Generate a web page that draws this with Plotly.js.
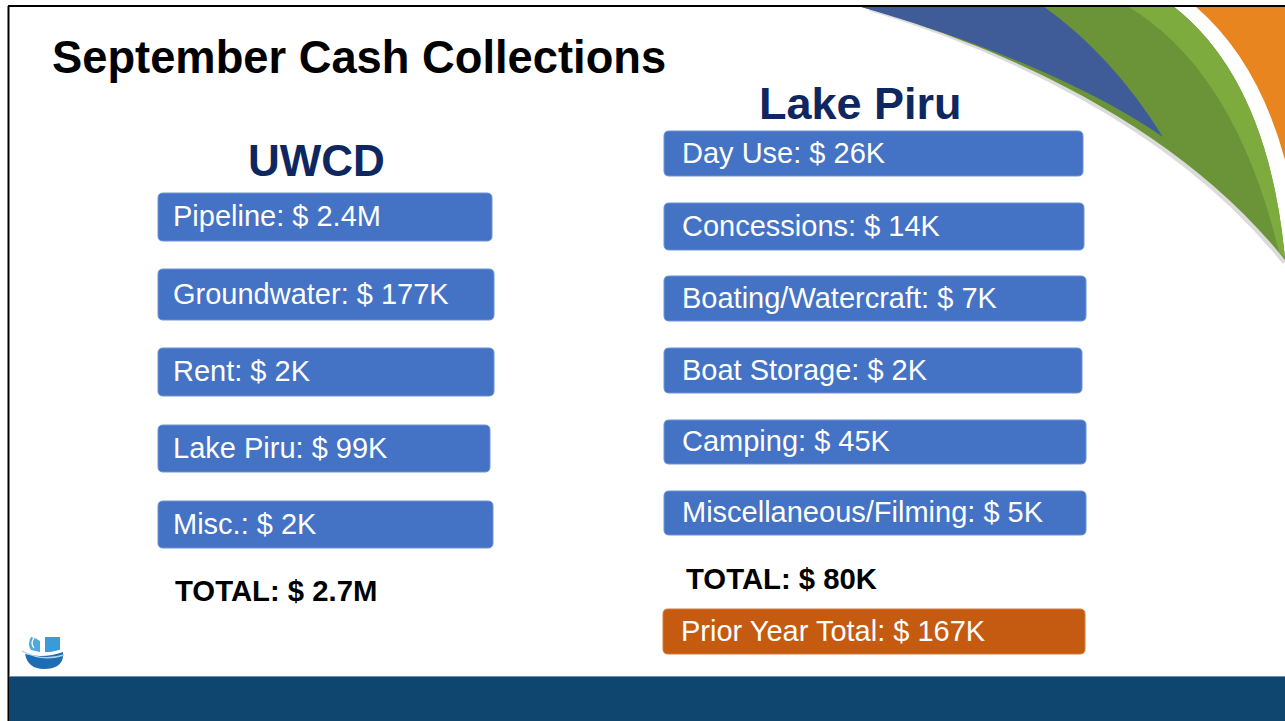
<!DOCTYPE html>
<html>
<head>
<meta charset="utf-8">
<script src="https://cdn.plot.ly/plotly-3.0.1.min.js"></script>
<style>html,body{margin:0;padding:0;background:#fff;}#chart{width:1285px;height:721px;}</style>
</head>
<body>
<div id="chart"></div>
<script>
// ---- data (amounts in thousands of dollars) ----
const slideTitle = 'September Cash Collections';
const uwcdHeading = 'UWCD';
const uwcdCategories = ['Pipeline', 'Groundwater', 'Rent', 'Lake Piru', 'Misc.'];
const uwcdAmounts = [2400, 177, 2, 99, 2];
const uwcdTotal = 2700;
const lakeHeading = 'Lake Piru';
const lakeCategories = ['Day Use', 'Concessions', 'Boating/Watercraft', 'Boat Storage', 'Camping', 'Miscellaneous/Filming'];
const lakeAmounts = [26, 14, 7, 2, 45, 5];
const lakeTotal = 80;
const priorYearLabel = 'Prior Year Total';
const priorYearTotal = 167;

// ---- layout geometry (pixels) ----
const uwcdBoxTop = [193, 269, 348, 425, 501];
const uwcdBoxBottom = [241, 320, 396, 472, 548];
const uwcdBoxRight = [492, 494, 494, 490, 493];
const uwcdBoxLeft = 158;
const lakeBoxTop = [131, 203, 276, 348, 420, 491];
const lakeBoxBottom = [176, 250, 321, 393, 464, 535];
const lakeBoxRight = [1083, 1084, 1086, 1082, 1086, 1086];
const lakeBoxLeft = 664;

function fmt(v) {
  return v >= 1000 ? '$ ' + (v / 1000).toFixed(1) + 'M' : '$ ' + v + 'K';
}
function rr(x0, y0, x1, y1, r) {
  return `M${x0 + r},${y0} L${x1 - r},${y0} Q${x1},${y0} ${x1},${y0 + r} L${x1},${y1 - r} Q${x1},${y1} ${x1 - r},${y1} L${x0 + r},${y1} Q${x0},${y1} ${x0},${y1 - r} L${x0},${y0 + r} Q${x0},${y0} ${x0 + r},${y0} Z`;
}

const FONT = 'Liberation Sans, Arial, sans-serif';
const shapes = [];
const annotations = [];

// swoosh shadow
shapes.push({type: 'path', xref: 'x', yref: 'y', layer: 'above',
  path: 'M870,8 C990,44 1172,120 1285,262',
  line: {color: 'rgba(0,0,0,0.14)', width: 6}, fillcolor: 'rgba(0,0,0,0)'});
// swoosh base (dark green)
shapes.push({type: 'path', xref: 'x', yref: 'y', layer: 'above',
  path: 'M858,6 L1173,6 Q1268,80 1285,258 L1285,260 C1170,115 980,40 858,6 Z',
  fillcolor: '#6B9438', line: {width: 0}});
// blue band
shapes.push({type: 'path', xref: 'x', yref: 'y', layer: 'above',
  path: 'M858,6 L1043,6 Q1112,55 1163,137 C1080,80 960,35 858,6 Z',
  fillcolor: '#405C98', line: {width: 0}});
// light green stripe
shapes.push({type: 'path', xref: 'x', yref: 'y', layer: 'above',
  path: 'M1127,6 L1173,6 Q1268,80 1285,258 L1279,252 Q1235,70 1127,6 Z',
  fillcolor: '#7DAB3D', line: {width: 0}});
// orange corner
shapes.push({type: 'path', xref: 'x', yref: 'y', layer: 'above',
  path: 'M1195,6 L1285,6 L1285,160 Q1258,60 1195,6 Z',
  fillcolor: '#E8851E', line: {width: 0}});

// slide border
shapes.push({type: 'line', xref: 'x', yref: 'y', x0: 8, x1: 1285, y0: 6, y1: 6, line: {color: '#000', width: 2}, layer: 'above'});
shapes.push({type: 'line', xref: 'x', yref: 'y', x0: 8.5, x1: 8.5, y0: 6, y1: 721, line: {color: '#000', width: 2}, layer: 'above'});

// bottom bar
shapes.push({type: 'rect', xref: 'x', yref: 'y', x0: 9, x1: 1285, y0: 676, y1: 721, fillcolor: '#0F4670', line: {width: 0}, layer: 'above'});
shapes.push({type: 'line', xref: 'x', yref: 'y', x0: 9, x1: 1285, y0: 676.5, y1: 676.5, line: {color: '#6F90B0', width: 1}, layer: 'above'});

// logo
shapes.push({type: 'rect', xref: 'x', yref: 'y', x0: 45, x1: 60, y0: 637, y1: 652, fillcolor: '#3A9BDB', line: {width: 0}, layer: 'above'});
shapes.push({type: 'path', xref: 'x', yref: 'y', layer: 'above',
  path: 'M31,637 Q27,644 31,650 L40,652 L40,641 Q36,638 31,637 Z', fillcolor: '#4FA8DE', line: {width: 0}});
shapes.push({type: 'path', xref: 'x', yref: 'y', layer: 'above',
  path: 'M25,654 Q44,659 63,652 L63,657 Q61,669 44,669 Q28,669 25,654 Z', fillcolor: '#1C6DB4', line: {width: 0}});
shapes.push({type: 'path', xref: 'x', yref: 'y', layer: 'above',
  path: 'M19,646 Q36,659 64,650', line: {color: '#ffffff', width: 2.4}, fillcolor: 'rgba(0,0,0,0)'});
shapes.push({type: 'path', xref: 'x', yref: 'y', layer: 'above',
  path: 'M22,651 Q42,662 64,655', line: {color: '#A9D3EE', width: 1.4}, fillcolor: 'rgba(0,0,0,0)'});
shapes.push({type: 'path', xref: 'x', yref: 'y', layer: 'above',
  path: 'M34,638 Q30,643 34,648', line: {color: '#ffffff', width: 1.3}, fillcolor: 'rgba(0,0,0,0)'});

// UWCD boxes
uwcdCategories.forEach((c, i) => {
  shapes.push({type: 'path', xref: 'x', yref: 'y', layer: 'above',
    path: rr(uwcdBoxLeft, uwcdBoxTop[i], uwcdBoxRight[i], uwcdBoxBottom[i], 5),
    fillcolor: '#4472C4', line: {color: '#6E93D3', width: 1}});
  annotations.push({xref: 'x', yref: 'y', x: uwcdBoxLeft + 13, y: (uwcdBoxTop[i] + uwcdBoxBottom[i]) / 2 - 1,
    xanchor: 'left', yanchor: 'middle', showarrow: false,
    text: c + ': ' + fmt(uwcdAmounts[i]), font: {family: FONT, size: 29, color: '#ffffff'}});
});
// Lake Piru boxes
lakeCategories.forEach((c, i) => {
  shapes.push({type: 'path', xref: 'x', yref: 'y', layer: 'above',
    path: rr(lakeBoxLeft, lakeBoxTop[i], lakeBoxRight[i], lakeBoxBottom[i], 5),
    fillcolor: '#4472C4', line: {color: '#6E93D3', width: 1}});
  annotations.push({xref: 'x', yref: 'y', x: lakeBoxLeft + 16, y: (lakeBoxTop[i] + lakeBoxBottom[i]) / 2 - 1,
    xanchor: 'left', yanchor: 'middle', showarrow: false,
    text: c + ': ' + fmt(lakeAmounts[i]), font: {family: FONT, size: 29, color: '#ffffff'}});
});
// prior year box
shapes.push({type: 'path', xref: 'x', yref: 'y', layer: 'above',
  path: rr(663, 609, 1085, 654, 5), fillcolor: '#C55A11', line: {color: '#D27A3E', width: 1}});
annotations.push({xref: 'x', yref: 'y', x: 679, y: 630.5, xanchor: 'left', yanchor: 'middle', showarrow: false,
  text: priorYearLabel + ': ' + fmt(priorYearTotal), font: {family: FONT, size: 29, color: '#ffffff'}});

// headings & totals
annotations.push({xref: 'x', yref: 'y', x: 50, y: 57, xanchor: 'left', yanchor: 'middle', showarrow: false,
  text: '<b>' + slideTitle + '</b>', font: {family: FONT, size: 45.3, color: '#000000'}});
annotations.push({xref: 'x', yref: 'y', x: 316, y: 160, xanchor: 'center', yanchor: 'middle', showarrow: false,
  text: '<b>' + uwcdHeading + '</b>', font: {family: FONT, size: 44, color: '#0E2761'}});
annotations.push({xref: 'x', yref: 'y', x: 860, y: 103, xanchor: 'center', yanchor: 'middle', showarrow: false,
  text: '<b>' + lakeHeading + '</b>', font: {family: FONT, size: 45, color: '#0E2761'}});
annotations.push({xref: 'x', yref: 'y', x: 173, y: 590, xanchor: 'left', yanchor: 'middle', showarrow: false,
  text: '<b>TOTAL: ' + fmt(uwcdTotal) + '</b>', font: {family: FONT, size: 29.3, color: '#000000'}});
annotations.push({xref: 'x', yref: 'y', x: 684, y: 578, xanchor: 'left', yanchor: 'middle', showarrow: false,
  text: '<b>TOTAL: ' + fmt(lakeTotal) + '</b>', font: {family: FONT, size: 29.3, color: '#000000'}});

const layout = {
  width: 1285, height: 721,
  margin: {l: 0, r: 0, t: 0, b: 0, pad: 0},
  paper_bgcolor: '#ffffff', plot_bgcolor: '#ffffff',
  showlegend: false,
  xaxis: {range: [0, 1285], visible: false, fixedrange: true},
  yaxis: {range: [721, 0], visible: false, fixedrange: true},
  shapes: shapes,
  annotations: annotations
};
Plotly.newPlot('chart', [], layout, {staticPlot: true, displayModeBar: false});
</script>
</body>
</html>
